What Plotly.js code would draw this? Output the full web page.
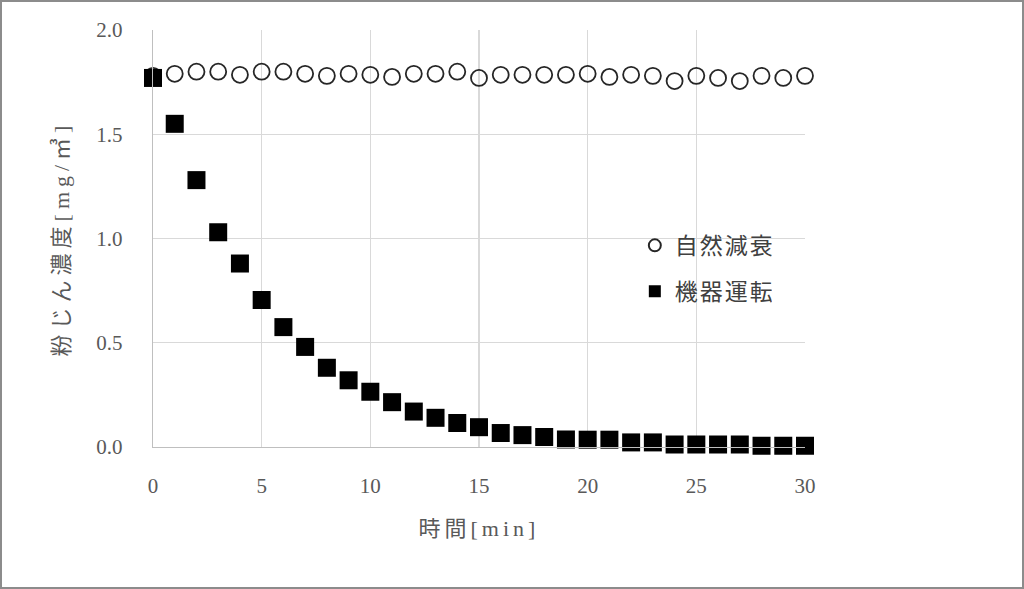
<!DOCTYPE html>
<html>
<head>
<meta charset="utf-8">
<script src="https://cdn.plot.ly/plotly-3.0.1.min.js"></script>
<style>
html,body{margin:0;padding:0;background:#fff;}
#wrap{position:relative;width:1024px;height:589px;}
#chart{width:1024px;height:589px;}
#frame{position:absolute;left:0;top:0;width:1024px;height:589px;box-sizing:border-box;border:2px solid #8c8c8c;pointer-events:none;}
#chart .xtitle{letter-spacing:4px;}
#chart .ytitle{letter-spacing:5px;}
#chart .legendtext{letter-spacing:2px;}
</style>
</head>
<body>
<div id="wrap"><div id="chart"></div><div id="frame"></div></div>
<script>
// data
const timeMin = [0,1,2,3,4,5,6,7,8,9,10,11,12,13,14,15,16,17,18,19,20,21,22,23,24,25,26,27,28,29,30];
const naturalDecay = [1.78,1.79,1.80,1.80,1.785,1.80,1.80,1.79,1.78,1.79,1.785,1.775,1.79,1.79,1.80,1.77,1.785,1.785,1.785,1.785,1.79,1.775,1.785,1.78,1.755,1.78,1.77,1.755,1.78,1.77,1.78];
const deviceOperation = [1.77,1.55,1.28,1.03,0.88,0.705,0.575,0.48,0.38,0.32,0.265,0.215,0.17,0.14,0.115,0.095,0.067,0.057,0.048,0.036,0.035,0.035,0.022,0.022,0.012,0.012,0.012,0.012,0.006,0.006,0.006];
const seriesNames = ['自然減衰','機器運転'];
const xTitle = '時間[min]';
const yTitle = '粉じん濃度[mg/㎥]';

const fontFam = '"Liberation Serif", "DejaVu Serif", "Noto Sans CJK JP", serif';

const traces = [
  {x: timeMin, y: naturalDecay, name: seriesNames[0], type:'scatter', mode:'markers', cliponaxis:false,
   legendgroup:'a',
   marker:{symbol:'circle-open', size:16, color:'#262626', line:{width:1.8, color:'#262626'}}},
  {x: timeMin, y: deviceOperation, name: seriesNames[1], type:'scatter', mode:'markers', cliponaxis:false,
   legendgroup:'b',
   marker:{symbol:'square', size:18, color:'#000000', line:{width:0}}}
];

const layout = {
  width:1024, height:589,
  margin:{l:153, r:219, t:30, b:142},
  paper_bgcolor:'#ffffff', plot_bgcolor:'#ffffff',
  font:{family:fontFam, color:'#595959', size:20},
  showlegend:true,
  legend:{x:0.739, y:0.535, xanchor:'left', yanchor:'top', traceorder:'grouped', tracegroupgap:13,
          itemsizing:'constant',
          font:{family:fontFam, size:23, color:'#404040'}, bgcolor:'rgba(0,0,0,0)'},
  xaxis:{range:[0,30], dtick:5, tick0:0, showgrid:true, gridcolor:'#d9d9d9', gridwidth:1.3,
         showline:true, linecolor:'#bfbfbf', linewidth:1.3, zeroline:false, ticks:'',
         ticklabelstandoff:19, tickfont:{family:fontFam, size:21, color:'#595959'},
         title:{text:xTitle, standoff:24, font:{family:fontFam, size:22, color:'#595959'}}},
  yaxis:{range:[0,2], dtick:0.5, tick0:0, tickformat:'.1f', showgrid:true, gridcolor:'#d9d9d9', gridwidth:1.3,
         showline:true, linecolor:'#bfbfbf', linewidth:1.3, zeroline:false, ticks:'',
         ticklabelstandoff:25, tickfont:{family:fontFam, size:21, color:'#595959'},
         title:{text:yTitle, standoff:20, font:{family:fontFam, size:22, color:'#595959'}}}
};

Plotly.newPlot('chart', traces, layout, {displayModeBar:false, staticPlot:true});
</script>
</body>
</html>
